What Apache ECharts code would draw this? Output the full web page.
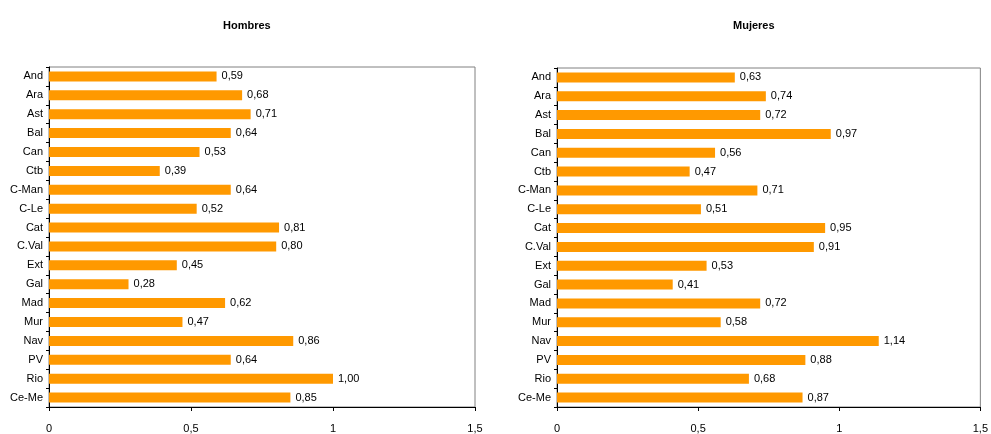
<!DOCTYPE html>
<html>
<head>
<meta charset="utf-8">
<script src="https://cdn.jsdelivr.net/npm/echarts@6/dist/echarts.min.js"></script>
<style>
html,body{margin:0;padding:0;background:#fff;}
#c{width:991px;height:434px;}
</style>
</head>
<body>
<div id="c"></div>
<script>
const categories = ["And","Ara","Ast","Bal","Can","Ctb","C-Man","C-Le","Cat","C.Val","Ext","Gal","Mad","Mur","Nav","PV","Rio","Ce-Me"];
const hombres = [0.59,0.68,0.71,0.64,0.53,0.39,0.64,0.52,0.81,0.80,0.45,0.28,0.62,0.47,0.86,0.64,1.00,0.85];
const mujeres = [0.63,0.74,0.72,0.97,0.56,0.47,0.71,0.51,0.95,0.91,0.53,0.41,0.72,0.58,1.14,0.88,0.68,0.87];
const titles = ["Hombres","Mujeres"];
const axisMin = 0, axisMax = 1.5, axisStep = 0.5;

const FONT = "'Liberation Sans', Arial, sans-serif";
const fmt = v => String(v).replace('.', ',');
const chart = echarts.init(document.getElementById('c'), null, {renderer:'canvas'});

function xAx(i){
  return {
    type:'value', gridIndex:i, min:axisMin, max:axisMax, interval:axisStep,
    splitLine:{show:false},
    axisLine:{show:true, lineStyle:{color:'#000', width:1}},
    axisTick:{show:true, length:4, lineStyle:{color:'#000'}},
    axisLabel:{color:'#000', fontFamily:FONT, fontSize:11, margin:16, formatter:fmt}
  };
}
function yAx(i){
  return {
    type:'category', gridIndex:i, data:categories, inverse:true,
    axisLine:{show:true, lineStyle:{color:'#000', width:1}},
    axisTick:{show:true, length:3, lineStyle:{color:'#000'}},
    axisLabel:{color:'#000', fontFamily:FONT, fontSize:11, margin:6}
  };
}
function ser(i, data){
  return {
    type:'bar', xAxisIndex:i, yAxisIndex:i, data:data, barWidth:10,
    itemStyle:{color:'#FF9900'},
    label:{show:true, position:'right', distance:5, color:'#000', fontFamily:FONT, fontSize:11,
      formatter:p => p.value.toFixed(2).replace('.', ',')}
  };
}

chart.setOption({
  animation:false,
  title:[
    {text:titles[0], left:218, top:15, textStyle:{fontFamily:FONT, fontSize:11, fontWeight:'bold', color:'#000'}},
    {text:titles[1], left:728, top:15, textStyle:{fontFamily:FONT, fontSize:11, fontWeight:'bold', color:'#000'}}
  ],
  grid:[
    {left:49, right:516, top:67, bottom:27, show:true, borderColor:'#808080', borderWidth:1, backgroundColor:'#fff'},
    {left:557, right:7, top:68, bottom:25, show:true, borderColor:'#808080', borderWidth:1, backgroundColor:'#fff'}
  ],
  xAxis:[xAx(0), xAx(1)],
  yAxis:[yAx(0), yAx(1)],
  series:[ser(0, hombres), ser(1, mujeres)]
});
</script>
</body>
</html>
